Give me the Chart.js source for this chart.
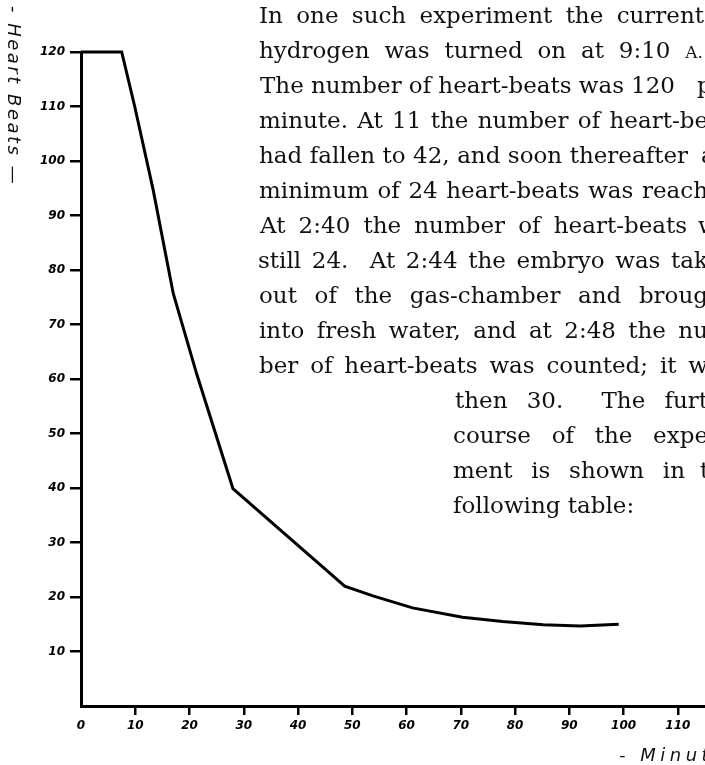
<!DOCTYPE html>
<html>
<head>
<meta charset="utf-8">
<script src="https://cdn.jsdelivr.net/npm/chart.js@4.4.0/dist/chart.umd.min.js"></script>
<style>
  html, body { margin: 0; padding: 0; background: #fff; overflow: hidden; }
  #wrap { width: 705px; height: 765px; position: relative; }
</style>
</head>
<body>
<div id="wrap"><canvas id="c" width="705" height="765"></canvas></div>
<script>
// Heart-beats per minute of the embryo against minutes in hydrogen
const minutes    = [0, 7.5, 9.9, 13.3, 17.0, 21.3, 28.0, 48.6, 53.8, 61.1, 70.3, 77.7, 85.2, 92.0, 99.1];
const heartBeats = [120, 120, 110, 94.7, 75.7, 61.0, 39.9, 22.0, 20.2, 18.0, 16.3, 15.5, 14.9, 14.7, 15.0];

const xTickValues = [0, 10, 20, 30, 40, 50, 60, 70, 80, 90, 100, 110];
const yTickValues = [10, 20, 30, 40, 50, 60, 70, 80, 90, 100, 110, 120];

const yTitle = '- Heart Beats —';
const xTitle = '- Minutes';

// Text column set beside the figure: [line, left edge, right edge, trailing word, its x]
const textLines = [
  ['In one such experiment the current', 259, 704, null, 0],
  ['hydrogen was turned on at 9:10 A.', 259, 703, null, 0],
  ['The number of heart-beats was 120', 260, 675, 'per', 697],
  ['minute. At 11 the number of heart-be', 259, 708, null, 0],
  ['had fallen to 42, and soon thereafter', 259, 688, 'a', 701],
  ['minimum of 24 heart-beats was reach', 259, 708, null, 0],
  ['At 2:40 the number of heart-beats', 260, 687, 'was', 698],
  ['still 24.  At 2:44 the embryo was tak', 258, 708, null, 0],
  ['out of the gas-chamber and broug', 259, 708, null, 0],
  ['into fresh water, and at 2:48 the nu', 259, 708, null, 0],
  ['ber of heart-beats was counted; it w', 259, 708, null, 0],
  ['then 30.  The furt', 455, 708, null, 0],
  ['course of the expe', 453, 708, null, 0],
  ['ment is shown in', 453, 685, 'the', 700],
  ['following table:', 453, null, null, 0]
];
const smallCapWords = ['A.'];

const points = minutes.map((m, i) => ({ x: m, y: heartBeats[i] }));

const pageText = {
  id: 'pageText',
  afterDraw(chart) {
    const ctx = chart.ctx;
    const bodyFont = '23px "DejaVu Serif"';
    const smallFont = '17px "DejaVu Serif"';
    ctx.save();
    ctx.fillStyle = '#111';
    ctx.textBaseline = 'alphabetic';
    ctx.textAlign = 'left';
    const wordWidth = w => {
      ctx.font = smallCapWords.includes(w) ? smallFont : bodyFont;
      return ctx.measureText(w).width;
    };
    textLines.forEach((ln, i) => {
      const [txt, x0, x1, tail, tailX] = ln;
      const base = 23 + 35 * i;
      const words = txt.split(' ');
      const widths = words.map(wordWidth);
      const total = widths.reduce((a, b) => a + b, 0);
      ctx.font = bodyFont;
      let gap = ctx.measureText(' ').width;
      if (x1 !== null && words.length > 1) gap = (x1 - x0 - total) / (words.length - 1);
      let x = x0;
      words.forEach((w, k) => {
        ctx.font = smallCapWords.includes(w) ? smallFont : bodyFont;
        if (w) ctx.fillText(w, x, base);
        x += widths[k] + gap;
      });
      if (tail) {
        ctx.font = bodyFont;
        ctx.fillText(tail, tailX, base);
      }
    });
    ctx.restore();

    // Axis titles in a hand-lettered style
    ctx.save();
    ctx.fillStyle = '#111';
    ctx.font = 'italic 18px "DejaVu Sans"';
    ctx.letterSpacing = '2.5px';
    ctx.translate(13, 6);
    ctx.rotate(Math.PI / 2);
    ctx.textBaseline = 'middle';
    ctx.textAlign = 'left';
    ctx.fillText(yTitle, 0, 0);
    ctx.restore();

    ctx.save();
    ctx.fillStyle = '#111';
    ctx.font = 'italic 18px "DejaVu Sans"';
    ctx.letterSpacing = '4.5px';
    ctx.textBaseline = 'middle';
    ctx.textAlign = 'left';
    ctx.fillText(xTitle, 619, 756);
    ctx.restore();
  }
};

new Chart(document.getElementById('c'), {
  type: 'line',
  data: {
    datasets: [{
      data: points,
      borderColor: '#000',
      borderWidth: 3,
      pointRadius: 0,
      tension: 0,
      fill: false,
      clip: false
    }]
  },
  options: {
    responsive: false,
    animation: false,
    devicePixelRatio: 1,
    layout: { padding: { top: 52, right: 0, bottom: 0, left: 0 } },
    plugins: { legend: { display: false }, tooltip: { enabled: false }, title: { display: false } },
    scales: {
      x: {
        type: 'linear',
        min: 0,
        max: 115,
        afterBuildTicks: s => { s.ticks = xTickValues.map(v => ({ value: v })); },
        afterFit: s => { s.height = 59; },
        border: { display: true, color: '#000', width: 3 },
        grid: {
          drawOnChartArea: false,
          drawTicks: true,
          tickLength: 9,
          color: c => (c.tick && c.tick.value === 0) ? 'rgba(0,0,0,0)' : '#000',
          lineWidth: 2.5
        },
        ticks: {
          color: '#000',
          padding: 4,
          maxRotation: 0,
          autoSkip: false,
          font: { family: 'DejaVu Sans', style: 'italic', weight: 'bold', size: 12 }
        }
      },
      y: {
        type: 'linear',
        min: 0,
        max: 120,
        afterBuildTicks: s => { s.ticks = yTickValues.map(v => ({ value: v })); },
        afterFit: s => { s.width = 81; },
        border: { display: true, color: '#000', width: 3 },
        grid: {
          drawOnChartArea: false,
          drawTicks: true,
          tickLength: 11,
          color: '#000',
          lineWidth: 2.5
        },
        ticks: {
          color: '#000',
          padding: 5,
          autoSkip: false,
          font: { family: 'DejaVu Sans', style: 'italic', weight: 'bold', size: 12 }
        }
      }
    }
  },
  plugins: [pageText]
});
</script>
</body>
</html>
